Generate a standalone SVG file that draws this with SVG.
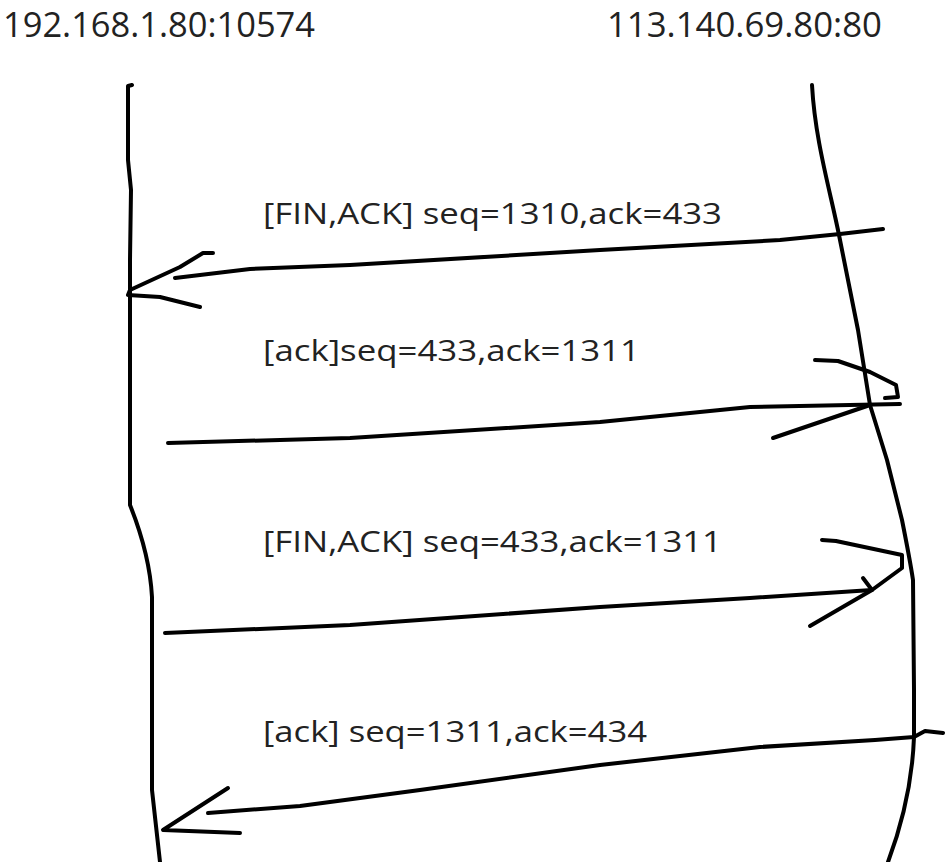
<svg xmlns="http://www.w3.org/2000/svg" width="945" height="862" viewBox="0 0 945 862">
<style>
.ln{fill:none;stroke:#000;stroke-width:4;stroke-linecap:round;stroke-linejoin:round}
.t{font-family:"Open Sans","Noto Sans",sans-serif;fill:#222}
.h{font-size:35px}
.m{font-size:30px}
</style>
<rect width="945" height="862" fill="#fff"/>
<g id="host-client">
<text class="t h" x="3" y="37" textLength="312" lengthAdjust="spacingAndGlyphs">192.168.1.80:10574</text>
<path class="ln" d="M132,85 L128,86 L128,160 L131,190 L130,260 L130,505 C140,530 150,560 152,597 L152,790 L160,862"/>
</g>
<g id="host-server">
<text class="t h" x="607" y="37" textLength="275" lengthAdjust="spacingAndGlyphs">113.140.69.80:80</text>
<path class="ln" d="M812,85 C815,140 830,190 839,235 L858,330 L870,405 L887,460 L902,520 C906,540 910,560 913,580 L914,690 L914,737 C912,790 900,830 888,862"/>
</g>
<g id="connectors">
<g id="msg1">
<path class="ln" d="M883,229 L840,234 L780,240 L600,250 L350,265 L250,269 L175,278"/>
<path class="ln" d="M213,253 L203,253 L180,267 L130,290 L128,295 L160,297 L200,307"/>
<text class="t m" x="263" y="224" textLength="459" lengthAdjust="spacingAndGlyphs">[FIN,ACK] seq=1310,ack=433</text>
</g>
<g id="msg2">
<path class="ln" d="M168,443 L350,438 L600,422 L750,407 L900,404"/>
<path class="ln" d="M815,360 L838,361 L870,372 L896,385 L898,397 L885,398"/>
<path class="ln" d="M773,438 L870,405"/>
<text class="t m" x="263" y="361" textLength="377" lengthAdjust="spacingAndGlyphs">[ack]seq=433,ack=1311</text>
</g>
<g id="msg3">
<path class="ln" d="M165,633 L350,625 L600,607 L750,598 L872,590"/>
<path class="ln" d="M822,540 L836,541 L902,555 L902,568 L872,590 L810,626"/>
<path class="ln" d="M863,578 L872,590"/>
<text class="t m" x="263" y="552" textLength="459" lengthAdjust="spacingAndGlyphs">[FIN,ACK] seq=433,ack=1311</text>
</g>
<g id="msg4">
<path class="ln" d="M943,733 L925,731 L914,737 L875,740 L760,747 L600,765 L420,790 L300,806 L208,813"/>
<path class="ln" d="M228,788 L163,830 L240,833"/>
<text class="t m" x="263" y="742" textLength="384" lengthAdjust="spacingAndGlyphs">[ack] seq=1311,ack=434</text>
</g>
</g>
</svg>
